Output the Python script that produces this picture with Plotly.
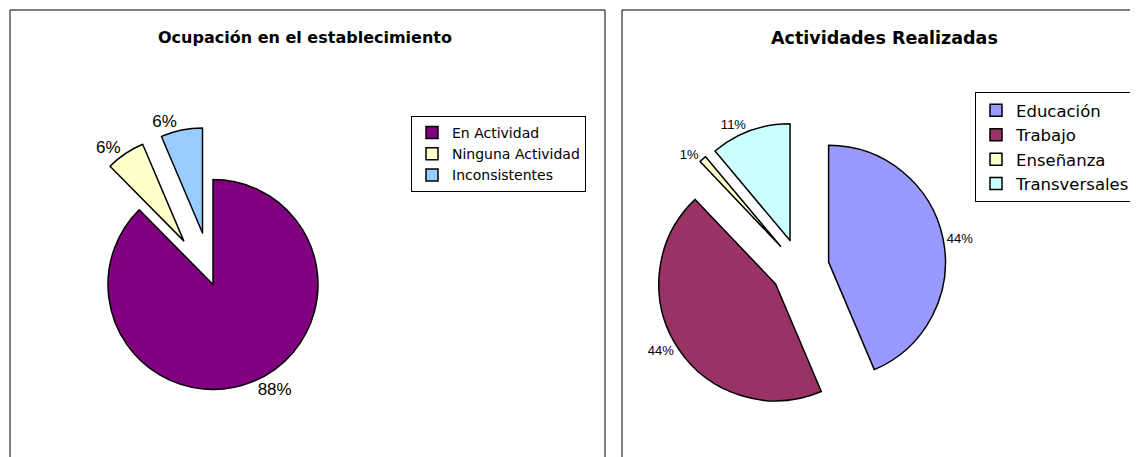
import plotly.graph_objects as go

# Left chart data
ocup_labels = ["En Actividad", "Ninguna Actividad", "Inconsistentes"]
ocup_values = [87.6, 6.0, 6.4]
ocup_colors = ["#800080", "#FFFFCC", "#99CCFF"]
ocup_pull = [0, 0.5, 0.5]

# Right chart data
act_labels = ["Educación", "Trabajo", "Enseñanza", "Transversales"]
act_values = [43.6, 44.3, 1.0, 11.1]
act_colors = ["#9999FF", "#993366", "#FFFFCC", "#CCFFFF"]
act_pull = [0.25, 0.25, 0.25, 0.25]

W, H = 1138, 457
OFF = 8  # page body margin
FONT = "Liberation Sans, Arial, sans-serif"
WIDE = "DejaVu Sans, Verdana, sans-serif"

def px(x):
    return (x - OFF) / W

def py(y):
    return 1 - (y - OFF) / H

fig = go.Figure()

fig.add_trace(go.Pie(
    labels=ocup_labels, values=ocup_values,
    marker=dict(colors=ocup_colors, line=dict(color="black", width=1.5)),
    pull=ocup_pull, sort=False, direction="clockwise", rotation=0,
    texttemplate="%{percent:.0%}", textposition="outside",
    textfont=dict(family=FONT, size=17, color="black"),
    domain=dict(x=[px(55.5), px(370.5)], y=[py(442), py(127)]),
    legend="legend", hoverinfo="label+percent",
))

fig.add_trace(go.Pie(
    labels=act_labels, values=act_values,
    marker=dict(colors=act_colors, line=dict(color="black", width=1.5)),
    pull=act_pull, sort=False, direction="clockwise", rotation=0,
    texttemplate="%{percent:.0%}", textposition="outside",
    textfont=dict(family=FONT, size=13, color="black"),
    domain=dict(x=[px(654), px(946)], y=[py(414), py(122)]),
    legend="legend2", hoverinfo="label+percent",
))

shapes = [
    dict(type="rect", xref="paper", yref="paper",
         x0=px(10), x1=px(605), y0=-0.2, y1=py(10),
         line=dict(color="black", width=1), fillcolor="rgba(0,0,0,0)", layer="below"),
    dict(type="rect", xref="paper", yref="paper",
         x0=px(622), x1=1.2, y0=-0.2, y1=py(10),
         line=dict(color="black", width=1), fillcolor="rgba(0,0,0,0)", layer="below"),
]

annotations = [
    dict(text="<b>Ocupación en el establecimiento</b>", x=px(305), y=py(37),
         xref="paper", yref="paper", showarrow=False, xanchor="center", yanchor="middle",
         font=dict(family=WIDE, size=16, color="black")),
    dict(text="<b>Actividades Realizadas</b>", x=px(884), y=py(38),
         xref="paper", yref="paper", showarrow=False, xanchor="center", yanchor="middle",
         font=dict(family=WIDE, size=17.5, color="black")),
]

fig.update_layout(
    width=W, height=H,
    margin=dict(l=0, r=0, t=0, b=0, autoexpand=False),
    paper_bgcolor="white", plot_bgcolor="white",
    shapes=shapes, annotations=annotations,
    legend=dict(x=px(411), y=py(116), xanchor="left", yanchor="top",
                bordercolor="black", borderwidth=1, bgcolor="white",
                font=dict(family=WIDE, size=14, color="black"),
                itemwidth=30, tracegroupgap=0),
    legend2=dict(x=px(975), y=py(92), xanchor="left", yanchor="top",
                 bordercolor="black", borderwidth=1, bgcolor="white",
                 font=dict(family=WIDE, size=16.5, color="black"),
                 itemwidth=30, tracegroupgap=0),
    showlegend=True,
)

fig.write_html("out.html")
